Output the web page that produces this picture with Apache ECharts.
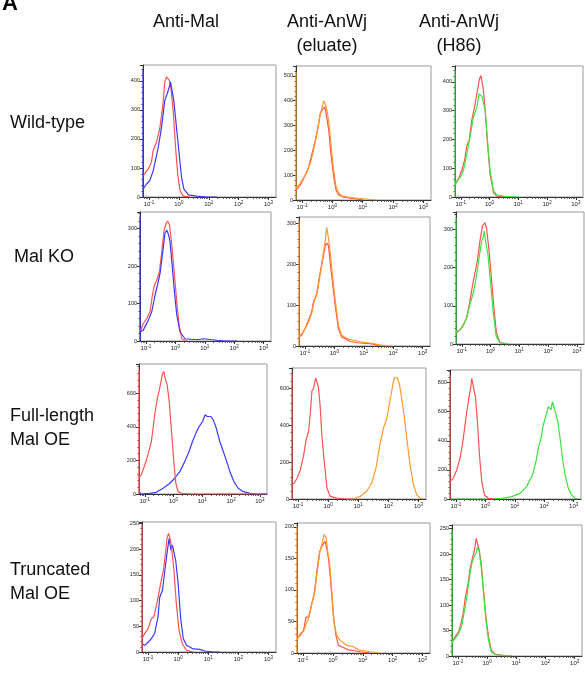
<!DOCTYPE html>
<html>
<head>
<meta charset="utf-8">
<script src="https://cdn.jsdelivr.net/npm/echarts@6/dist/echarts.min.js"></script>
<style>
  html, body { margin: 0; padding: 0; background: #fff; }
  #main { width: 585px; height: 674px; }
</style>
</head>
<body>
<div id="main"></div>
<script>
// column / row headings
var columns = ["Anti-Mal", "Anti-AnWj\n(eluate)", "Anti-AnWj\n(H86)"];
var rows = ["Wild-type", "Mal KO", "Full-length\nMal OE", "Truncated\nMal OE"];
var decades = [-1, 0, 1, 2, 3];

// y axis ranges per panel (row by row)
var yMax = [455, 540, 455, 344, 315, 346, 775, 710, 887, 253, 206, 257];
var yStep = [100, 100, 100, 100, 100, 100, 200, 200, 200, 50, 50, 50];

// [log10 fluorescence, count]
// wild-type
var wtMalCtrl = [[-1.2,73],[-1.03,96],[-0.92,119],[-0.86,160],[-0.75,188],[-0.64,235],[-0.53,321],[-0.47,397],[-0.41,414],[-0.36,420],[-0.32,402],[-0.27,379],[-0.19,298],[-0.11,171],[-0.04,79],[0.04,21],[0.15,3],[0.37,0]];
var wtMal = [[-1.2,0],[-1.2,437],[-1.2,27],[-1.09,44],[-0.98,55],[-0.86,90],[-0.81,113],[-0.69,171],[-0.58,240],[-0.47,333],[-0.39,356],[-0.32,379],[-0.28,397],[-0.23,391],[-0.17,333],[-0.08,240],[0.01,148],[0.09,67],[0.17,27],[0.32,7],[0.6,3],[0.93,0],[1.27,0]];
var wtEluCtrl = [[-1.2,40],[-1.06,60],[-0.89,101],[-0.78,134],[-0.67,188],[-0.56,241],[-0.45,308],[-0.40,349],[-0.34,362],[-0.29,355],[-0.25,375],[-0.2,342],[-0.12,282],[-0.05,188],[0.04,94],[0.12,40],[0.21,20],[0.37,11],[0.59,7],[1.03,0]];
var wtElu = [[-1.2,0],[-1.2,516],[-1.2,47],[-1.06,67],[-0.89,101],[-0.73,147],[-0.62,201],[-0.51,268],[-0.42,335],[-0.36,362],[-0.32,382],[-0.29,400],[-0.24,389],[-0.18,362],[-0.12,315],[-0.05,228],[0.04,121],[0.12,54],[0.21,27],[0.32,16],[0.48,13],[0.70,9],[1.03,5],[1.47,0]];
var wtH86Ctrl = [[-1.2,44],[-1.08,62],[-0.97,91],[-0.87,126],[-0.79,178],[-0.71,195],[-0.62,265],[-0.5,323],[-0.41,376],[-0.35,410],[-0.3,422],[-0.27,405],[-0.21,370],[-0.15,300],[-0.07,184],[0.02,79],[0.14,15],[0.25,3],[0.54,0]];
var wtH86 = [[-1.2,0],[-1.2,440],[-1.2,38],[-1.14,56],[-1.03,67],[-0.91,91],[-0.79,149],[-0.68,207],[-0.56,277],[-0.44,312],[-0.36,358],[-0.3,364],[-0.25,347],[-0.2,353],[-0.15,300],[-0.07,195],[0.02,91],[0.14,21],[0.25,7],[0.54,2],[1.01,0]];
// Mal KO
var koMalCtrl = [[-1.2,24],[-1.09,46],[-0.97,60],[-0.86,78],[-0.78,122],[-0.71,149],[-0.63,162],[-0.54,185],[-0.46,238],[-0.38,296],[-0.31,314],[-0.26,320],[-0.2,310],[-0.12,256],[-0.04,185],[0.05,104],[0.13,42],[0.22,6],[0.39,0]];
var koMal = [[-1.2,0],[-1.2,332],[-1.2,24],[-1.09,29],[-0.92,55],[-0.8,78],[-0.69,122],[-0.58,158],[-0.52,180],[-0.44,229],[-0.35,288],[-0.29,296],[-0.23,283],[-0.18,265],[-0.11,203],[-0.03,131],[0.05,69],[0.16,24],[0.33,6],[0.62,4],[0.79,4],[0.96,6],[1.19,4],[1.41,2],[1.7,0],[2.1,0]];
var koEluCtrl = [[-1.2,22],[-1.11,26],[-1.0,42],[-0.88,62],[-0.77,83],[-0.71,107],[-0.6,127],[-0.48,180],[-0.39,212],[-0.31,245],[-0.26,251],[-0.2,245],[-0.14,204],[-0.05,148],[0.03,99],[0.14,42],[0.25,22],[0.37,18],[0.54,11],[0.77,8],[0.99,7],[1.22,6],[1.45,2],[1.79,0]];
var koElu = [[-1.2,0],[-1.2,306],[-1.2,24],[-1.05,34],[-0.88,58],[-0.77,79],[-0.69,107],[-0.58,131],[-0.46,184],[-0.37,229],[-0.3,261],[-0.26,290],[-0.21,269],[-0.14,229],[-0.05,164],[0.04,107],[0.14,50],[0.25,26],[0.43,18],[0.65,14],[0.88,10],[1.11,8],[1.33,6],[1.56,2],[1.9,0]];
var koH86Ctrl = [[-1.2,28],[-1.06,37],[-0.95,50],[-0.83,68],[-0.72,111],[-0.66,138],[-0.6,164],[-0.54,168],[-0.46,217],[-0.37,269],[-0.28,309],[-0.2,318],[-0.14,304],[-0.06,252],[0.03,173],[0.11,103],[0.2,32],[0.32,4],[0.55,0]];
var koH86 = [[-1.2,0],[-1.2,331],[-1.2,32],[-1.06,37],[-0.95,48],[-0.83,68],[-0.72,103],[-0.6,133],[-0.49,177],[-0.4,225],[-0.31,269],[-0.26,278],[-0.22,296],[-0.17,269],[-0.09,234],[0.0,164],[0.09,85],[0.2,19],[0.32,4],[0.66,0]];
// full-length Mal OE
var flMalCtrl = [[-1.2,0],[-1.2,741],[-1.2,98],[-1.12,114],[-1.0,173],[-0.89,233],[-0.77,313],[-0.69,422],[-0.62,512],[-0.56,572],[-0.48,631],[-0.43,641],[-0.39,711],[-0.34,731],[-0.29,691],[-0.22,651],[-0.15,552],[-0.07,373],[0.01,193],[0.08,64],[0.16,14],[0.28,4],[0.57,0],[3.25,0]];
var flMal = [[-1.2,14],[-1.12,0],[-0.83,4],[-0.6,10],[-0.36,34],[-0.13,64],[0.04,94],[0.22,133],[0.39,193],[0.54,253],[0.66,313],[0.78,363],[0.89,402],[1.01,432],[1.1,472],[1.17,462],[1.23,472],[1.3,462],[1.38,442],[1.47,402],[1.61,313],[1.73,253],[1.85,193],[1.96,133],[2.1,74],[2.25,34],[2.43,14],[2.66,4],[2.89,0],[3.25,0]];
var flEluCtrl = [[-1.2,0],[-1.2,683],[-1.2,78],[-1.12,87],[-1.03,114],[-0.92,159],[-0.81,240],[-0.73,322],[-0.65,367],[-0.59,467],[-0.54,584],[-0.48,602],[-0.45,629],[-0.41,656],[-0.37,647],[-0.32,602],[-0.26,494],[-0.21,349],[-0.13,204],[-0.04,60],[0.07,14],[0.29,5],[0.62,0],[0.84,0]];
var flElu = [[0.62,0],[0.84,0],[1.06,14],[1.28,42],[1.45,87],[1.59,168],[1.72,295],[1.84,385],[1.95,439],[2.03,512],[2.11,584],[2.19,656],[2.25,647],[2.3,656],[2.37,620],[2.44,548],[2.52,457],[2.61,331],[2.72,186],[2.83,78],[2.94,24],[3.05,5],[3.16,0]];
var flH86Ctrl = [[-1.2,0],[-1.2,853],[-1.2,119],[-1.09,142],[-0.97,200],[-0.86,280],[-0.78,372],[-0.71,475],[-0.63,601],[-0.55,704],[-0.5,761],[-0.46,830],[-0.43,796],[-0.38,784],[-0.33,693],[-0.26,509],[-0.2,303],[-0.12,119],[-0.03,28],[0.1,5],[0.33,0]];
var flH86 = [[-1.14,0],[0.22,0],[0.56,5],[0.9,16],[1.18,39],[1.4,85],[1.6,165],[1.72,257],[1.8,349],[1.89,417],[1.97,509],[2.05,567],[2.14,635],[2.23,612],[2.28,670],[2.34,624],[2.39,590],[2.46,532],[2.54,417],[2.62,280],[2.71,165],[2.82,73],[2.93,28],[3.05,5],[3.14,0]];
// truncated Mal OE
var trMalCtrl = [[-1.2,0],[-1.2,247],[-1.2,26],[-1.11,36],[-1.0,45],[-0.89,65],[-0.81,68],[-0.72,91],[-0.64,114],[-0.56,140],[-0.48,162],[-0.41,198],[-0.37,221],[-0.32,231],[-0.28,224],[-0.22,205],[-0.14,159],[-0.06,94],[0.03,42],[0.14,16],[0.28,3],[0.5,0]];
var trMal = [[-1.2,16],[-1.11,13],[-1.0,19],[-0.89,26],[-0.78,36],[-0.67,68],[-0.61,107],[-0.52,120],[-0.44,159],[-0.37,192],[-0.3,221],[-0.24,198],[-0.19,208],[-0.13,206],[-0.08,178],[0.0,133],[0.08,68],[0.17,26],[0.28,13],[0.5,6],[0.72,5],[0.89,2],[1.17,0],[1.39,0]];
var trEluCtrl = [[-1.2,23],[-1.09,28],[-0.98,36],[-0.9,57],[-0.81,57],[-0.7,79],[-0.62,95],[-0.53,132],[-0.44,161],[-0.37,169],[-0.31,172],[-0.26,177],[-0.2,164],[-0.14,148],[-0.07,111],[0.02,57],[0.11,26],[0.19,12],[0.3,10],[0.52,5],[0.69,4],[0.91,2],[1.24,0]];
var trElu = [[-1.2,0],[-1.2,201],[-1.2,20],[-1.09,31],[-0.98,34],[-0.89,47],[-0.81,55],[-0.7,79],[-0.61,95],[-0.53,127],[-0.44,159],[-0.37,172],[-0.29,188],[-0.22,182],[-0.18,164],[-0.11,143],[-0.03,95],[0.04,47],[0.13,28],[0.24,20],[0.47,12],[0.69,10],[0.86,5],[1.02,4],[1.24,2],[1.58,0]];
var trH86Ctrl = [[-1.2,28],[-1.09,38],[-0.97,48],[-0.88,67],[-0.8,90],[-0.75,113],[-0.65,142],[-0.57,175],[-0.5,192],[-0.43,208],[-0.37,231],[-0.33,221],[-0.27,208],[-0.2,182],[-0.12,129],[-0.04,77],[0.05,38],[0.14,12],[0.28,3],[0.62,1],[0.85,0]];
var trH86 = [[-1.2,0],[-1.2,247],[-1.2,25],[-1.09,35],[-0.97,44],[-0.86,61],[-0.77,90],[-0.69,116],[-0.6,156],[-0.52,182],[-0.44,195],[-0.38,201],[-0.33,214],[-0.27,205],[-0.2,175],[-0.12,123],[-0.04,71],[0.05,31],[0.14,8],[0.28,3],[0.5,1],[0.73,0]];

var RED = "#ff5252", BLUE = "#3a3aff", ORANGE = "#ff9a2a", GREEN = "#3fe23f";
var colColors = [BLUE, ORANGE, GREEN];

// panel boxes [left, top, right, bottom]
var boxes = [
  [143, 65, 276, 197], [296, 66, 431, 200], [455, 66, 583, 197],
  [140, 212, 271, 341], [299, 217, 430, 346], [456, 212, 584, 344],
  [139, 364, 267, 494], [292, 368, 426, 499], [450, 370, 581, 499],
  [142, 522, 276, 652], [297, 523, 430, 653], [452, 525, 582, 656]
];

// control first, antibody second, except where the pile-up at the left edge is red
var pairs = [
  [wtMalCtrl, wtMal], [wtEluCtrl, wtElu], [wtH86Ctrl, wtH86],
  [koMalCtrl, koMal], [koEluCtrl, koElu], [koH86Ctrl, koH86],
  [flMal, flMalCtrl, true], [flElu, flEluCtrl, true], [flH86, flH86Ctrl, true],
  [trMal, trMalCtrl, true], [trEluCtrl, trElu], [trH86Ctrl, trH86]
];

var XMIN = -1.2, XMAX = 3.25;
var minorVals = [];
decades.concat([-2]).forEach(function (d) {
  for (var k = 2; k <= 9; k++) {
    var v = d + Math.log10(k);
    if (v > XMIN && v < XMAX) minorVals.push(v);
  }
});

var grids = [], xAxes = [], yAxes = [], series = [];
boxes.forEach(function (b, i) {
  grids.push({
    left: b[0], top: b[1], width: b[2] - b[0], height: b[3] - b[1],
    show: true, borderColor: "#9a9a9a", borderWidth: 1
  });
  xAxes.push({
    type: "value", gridIndex: i, min: XMIN, max: XMAX, position: "bottom",
    axisLine: { show: true, onZero: false, lineStyle: { color: "#333", width: 1 } },
    axisTick: { show: true, length: 3, customValues: decades, lineStyle: { color: "#333" } },
    axisLabel: {
      customValues: decades, margin: 3, color: "#222",
      formatter: function (v) { return "{b|10}{s|" + v + "}"; },
      rich: {
        b: { fontSize: 6, fontFamily: "Liberation Sans" },
        s: { fontSize: 4.5, fontFamily: "Liberation Sans", padding: [0, 0, 4, 0] }
      }
    },
    splitLine: { show: false }
  });
  xAxes.push({
    type: "value", gridIndex: i, min: XMIN, max: XMAX, position: "bottom",
    axisLine: { show: false, onZero: false },
    axisTick: { show: true, length: 1.8, customValues: minorVals, lineStyle: { color: "#444" } },
    axisLabel: { show: false },
    splitLine: { show: false }
  });
  yAxes.push({
    type: "value", gridIndex: i, min: 0, max: yMax[i], interval: yStep[i], position: "left",
    axisLine: { show: true, onZero: false, lineStyle: { color: "#333", width: 1 } },
    axisTick: { show: true, length: 3, lineStyle: { color: "#333" } },
    minorTick: { show: true, splitNumber: 5, length: 1.5, lineStyle: { color: "#444" } },
    axisLabel: { fontSize: 5.5, margin: 3, color: "#222", fontFamily: "Liberation Sans", showMaxLabel: false },
    splitLine: { show: false }
  });
  var p = pairs[i];
  var col = i % 3;
  var first = p[2] ? colColors[col] : RED;
  var second = p[2] ? RED : colColors[col];
  [[p[0], first], [p[1], second]].forEach(function (s) {
    series.push({
      type: "line", xAxisIndex: 2 * i, yAxisIndex: i, data: s[0],
      symbol: "none", clip: true, silent: true,
      lineStyle: { color: s[1], width: 1.2 }
    });
  });
});

var graphics = [];
var headerX = [186, 327, 459];
columns.forEach(function (c, i) {
  graphics.push({
    type: "text", x: headerX[i], y: 10,
    style: { text: c, fontSize: 18, fontFamily: "Liberation Sans", fill: "#111", align: "center", verticalAlign: "top", lineHeight: 24 }
  });
});
var rowY = [123, 257, 428, 582];
var rowX = [10, 14, 10, 10];
rows.forEach(function (r, i) {
  graphics.push({
    type: "text", x: rowX[i], y: rowY[i],
    style: { text: r, fontSize: 18, fontFamily: "Liberation Sans", fill: "#111", align: "left", verticalAlign: "middle", lineHeight: 24 }
  });
});
graphics.push({
  type: "text", x: 2, y: -7,
  style: { text: "A", fontSize: 22, fontWeight: "bold", fontFamily: "Liberation Sans", fill: "#000" }
});

var chart = echarts.init(document.getElementById("main"));
chart.setOption({
  animation: false,
  backgroundColor: "#fff",
  grid: grids,
  xAxis: xAxes,
  yAxis: yAxes,
  series: series,
  graphic: graphics
});
</script>
</body>
</html>
